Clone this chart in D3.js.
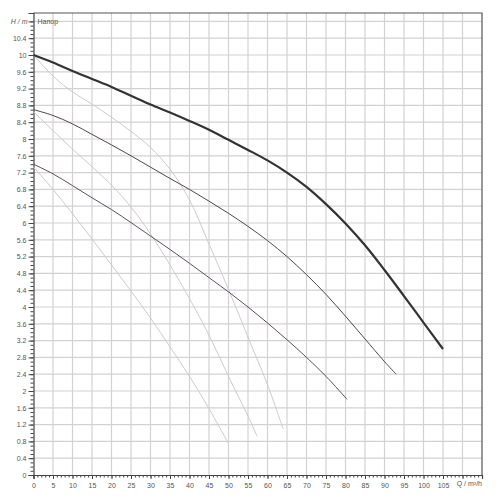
<!DOCTYPE html>
<html><head><meta charset="utf-8">
<script src="https://cdn.jsdelivr.net/npm/d3@7"></script>
<style>body{margin:0;background:#fff}svg{display:block}</style>
</head><body>
<svg id="c" width="500" height="500"></svg>
<script>
// Data (Q in m³/h, H in m)
const qThick = [0,5,10,15,20,25,30,35,40,45,50,55,60,65,70,75,80,85,90,95,100,105];
const hThick = [10,9.82,9.62,9.43,9.24,9.03,8.82,8.63,8.43,8.22,7.98,7.74,7.49,7.2,6.86,6.45,5.99,5.47,4.88,4.26,3.63,3.0];
const qMid = [0,5,10,15,20,25,30,35,40,45,50,55,60,65,70,75,80,85,90,93];
const hMid = [8.7,8.56,8.36,8.11,7.86,7.6,7.33,7.06,6.8,6.52,6.23,5.92,5.58,5.2,4.77,4.3,3.78,3.24,2.7,2.4];
const qLow = [0,5,10,15,20,25,30,35,40,45,50,55,60,65,70,75,80.4];
const hLow = [7.4,7.17,6.89,6.6,6.32,6.01,5.69,5.37,5.04,4.7,4.36,4.0,3.62,3.22,2.8,2.35,1.8];
const qLightA = [0,5,10,15,20,25,30,35,40,45,50,55,60,64];
const hLightA = [10,9.5,9.12,8.83,8.52,8.18,7.8,7.28,6.55,5.5,4.42,3.28,2.15,1.1];
const qLightB = [0,5,10,15,20,25,30,35,40,45,50,55,57.3];
const hLightB = [8.65,8.2,7.76,7.34,6.9,6.38,5.74,5.0,4.2,3.33,2.35,1.4,0.93];
const qLightC = [0,5,10,15,20,25,30,35,40,45,50];
const hLightC = [7.33,6.8,6.22,5.62,5.0,4.38,3.74,3.05,2.35,1.58,0.75];
const yTickLabels = ["0","0.4","0.8","1.2","1.6","2","2.4","2.8","3.2","3.6","4","4.4","4.8","5.2","5.6","6","6.4","6.8","7.2","7.6","8","8.4","8.8","9.2","9.6","10","10.4"];
const xTickLabels = ["0","5","10","15","20","25","30","35","40","45","50","55","60","65","70","75","80","85","90","95","100","105"];
const yTitle = "H / m";
const seriesTitle = "Напор";
const xTitle = "Q / m³/h";

const svg = d3.select("#c");
const x = d3.scaleLinear().domain([0,115]).range([33.5,482]);
const y = d3.scaleLinear().domain([0,11]).range([475,13]);
const font = "'Liberation Sans', Arial, sans-serif";

// grid
const gx = d3.range(5,115,5), gy = d3.range(1,28).map(i=>+(i*0.4).toFixed(1));
svg.append("g").selectAll("line").data(gx).join("line")
  .attr("x1",d=>x(d)).attr("x2",d=>x(d)).attr("y1",y(0)).attr("y2",y(11))
  .attr("stroke","#d2d2d2").attr("stroke-width",1.2);
svg.append("g").selectAll("line").data(gy).join("line")
  .attr("y1",d=>y(d)).attr("y2",d=>y(d)).attr("x1",x(0)).attr("x2",x(115))
  .attr("stroke","#d2d2d2").attr("stroke-width",1.2);

// border top/right
svg.append("path").attr("d",`M${x(0)},${y(11)}H${x(115)}V${y(0)}`)
  .attr("fill","none").attr("stroke","#555").attr("stroke-width",1.2);

// axes
const yAxis = d3.axisLeft(y).tickValues(d3.range(0,28).map(i=>+(i*0.4).toFixed(1)))
  .tickFormat((d,i)=> i<yTickLabels.length ? yTickLabels[i] : "").tickSize(5).tickPadding(2);
svg.append("g").attr("transform",`translate(${x(0)},0)`).call(yAxis);
const yMinor = d3.axisLeft(y).tickValues(d3.range(0,109).map(i=>i*0.1)).tickFormat("").tickSize(3);
svg.append("g").attr("transform",`translate(${x(0)},0)`).call(yMinor).select(".domain").remove();

const xAxis = d3.axisBottom(x).tickValues(d3.range(0,23).map(i=>i*5))
  .tickFormat((d,i)=> i<xTickLabels.length ? xTickLabels[i] : "").tickSize(4).tickPadding(4);
svg.append("g").attr("transform",`translate(0,${y(0)})`).call(xAxis);
const xMinor = d3.axisBottom(x).tickValues(d3.range(0,116)).tickFormat("").tickSize(2.5);
svg.append("g").attr("transform",`translate(0,${y(0)})`).call(xMinor).select(".domain").remove();

svg.selectAll(".domain").attr("stroke","#444").attr("stroke-width",1.2);
svg.selectAll(".tick line").attr("stroke","#444");
svg.selectAll(".tick text").attr("font-family",font).attr("font-size",7).attr("fill","#555");

svg.append("text").attr("x",x(0)-6).attr("y",y(10.8)+2.5).attr("text-anchor","end")
  .attr("font-family",font).attr("font-size",7).attr("fill","#555").attr("font-style","italic").text(yTitle);
svg.append("text").attr("x",x(0)+4).attr("y",y(10.8)+3).attr("font-family",font)
  .attr("font-size",7).attr("fill","#555").text(seriesTitle);
svg.append("text").attr("x",x(115)).attr("y",y(0)+10.5).attr("text-anchor","end")
  .attr("font-family",font).attr("font-size",7).attr("fill","#555").text(xTitle);

const line = d3.line().x(d=>x(d[0])).y(d=>y(d[1])).curve(d3.curveCatmullRom.alpha(0.5));
const zip = (a,b)=>a.map((v,i)=>[v,b[i]]);
const curves = [
  {q:qLightA,h:hLightA,c:"#cfcacf",w:1},
  {q:qLightB,h:hLightB,c:"#cfcacf",w:1},
  {q:qLightC,h:hLightC,c:"#cfcacf",w:1},
  {q:qLow,h:hLow,c:"#5e4f5e",w:1},
  {q:qMid,h:hMid,c:"#4e464e",w:1},
  {q:qThick,h:hThick,c:"#333",w:2.2}
];
svg.append("g").selectAll("path").data(curves).join("path")
  .attr("d",d=>line(zip(d.q,d.h))).attr("fill","none")
  .attr("stroke",d=>d.c).attr("stroke-width",d=>d.w);
</script>
</body></html>
